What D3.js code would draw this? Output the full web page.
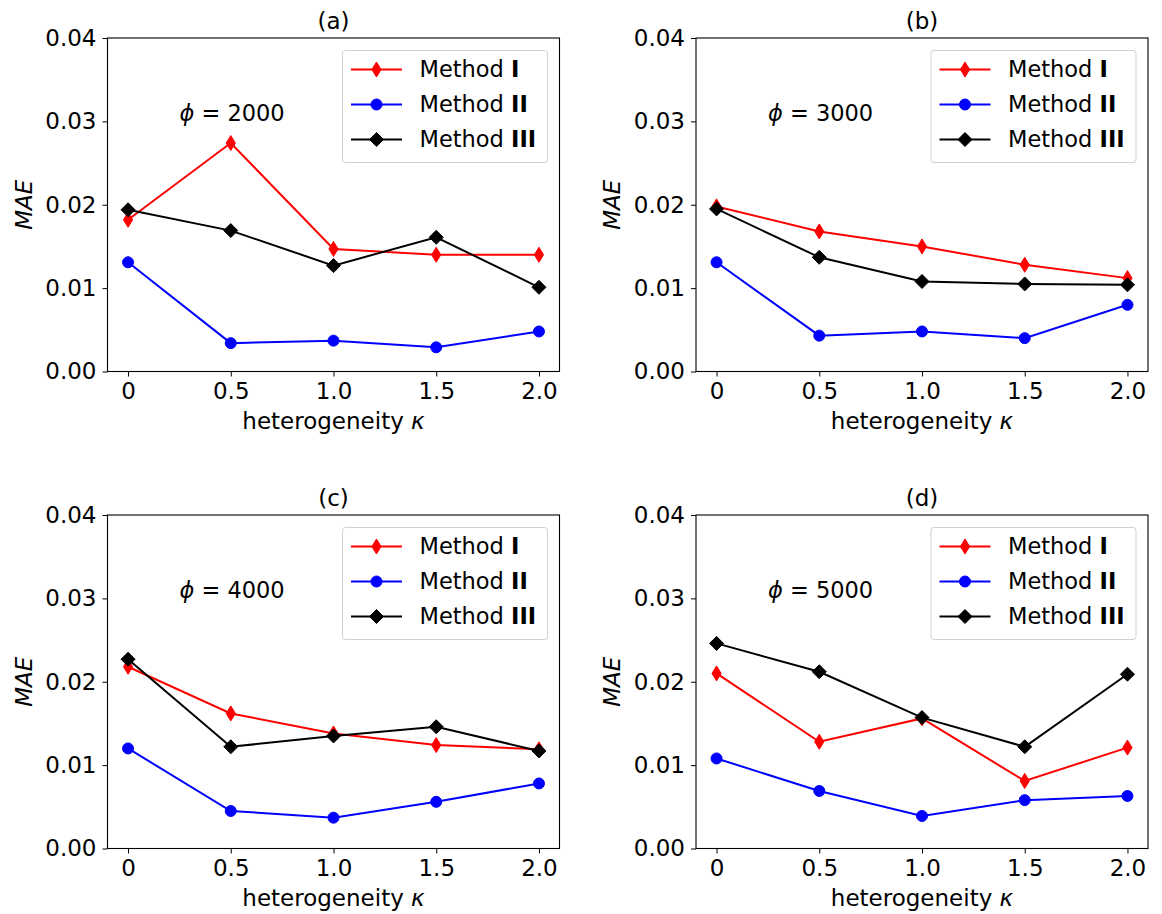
<!DOCTYPE html>
<html>
<head>
<meta charset="utf-8">
<script src="https://cdn.jsdelivr.net/npm/d3@7"></script>
<style>
  body { margin: 0; background: #fff; }
  svg { font-family: "DejaVu Sans", sans-serif; }
</style>
</head>
<body>
<div id="chart"></div>
<script>
// x values and tick labels
const kappa = [0, 0.5, 1.0, 1.5, 2.0];
const xTickLabels = ["0", "0.5", "1.0", "1.5", "2.0"];
const yTicks = [0, 0.01, 0.02, 0.03, 0.04];
const panelTitles = ["(a)", "(b)", "(c)", "(d)"];
const phiValues = ["2000", "3000", "4000", "5000"];
const methodNames = ["I", "II", "III"];

// MAE per panel (a,b,c,d)
const methodI = [
    [0.0182, 0.0274, 0.0147, 0.0140, 0.0140],
    [0.0198, 0.0168, 0.0150, 0.0128, 0.0112],
    [0.0218, 0.0162, 0.0138, 0.0124, 0.0119],
    [0.0210, 0.0128, 0.0156, 0.0081, 0.0121]
];
const methodII = [
    [0.0131, 0.0034, 0.0037, 0.0029, 0.0048],
    [0.0131, 0.0043, 0.0048, 0.0040, 0.0080],
    [0.0120, 0.0045, 0.0037, 0.0056, 0.0078],
    [0.0108, 0.0069, 0.0039, 0.0058, 0.0063]
];
const methodIII = [
    [0.0194, 0.0169, 0.0127, 0.0161, 0.0101],
    [0.0195, 0.0137, 0.0108, 0.0105, 0.0104],
    [0.0227, 0.0122, 0.0135, 0.0146, 0.0117],
    [0.0246, 0.0212, 0.0157, 0.0122, 0.0209]
];

const W = 1162, H = 914;
const plotW = 452, plotH = 333.5;
const lefts = [107.5, 696];
const tops = [38, 515];
const fs = 23;

const colors = ["#ff0000", "#0000ff", "#000000"];
const series = [methodI, methodII, methodIII];

const svg = d3.select("#chart").append("svg")
    .attr("width", W)
    .attr("height", H);

svg.append("rect").attr("width", W).attr("height", H).attr("fill", "#fff");

// marker shapes: thin diamond, circle, diamond
function drawMarker(g, type, x, y, color) {
    if (type === 0) {
        g.append("path")
            .attr("d", `M${x},${y - 7.5}L${x + 4.6},${y}L${x},${y + 7.5}L${x - 4.6},${y}Z`)
            .attr("fill", color).attr("stroke", color).attr("stroke-width", 1);
    } else if (type === 1) {
        g.append("circle").attr("cx", x).attr("cy", y).attr("r", 5.5)
            .attr("fill", color).attr("stroke", color).attr("stroke-width", 1);
    } else {
        g.append("path")
            .attr("d", `M${x},${y - 7}L${x + 7},${y}L${x},${y + 7}L${x - 7},${y}Z`)
            .attr("fill", color).attr("stroke", color).attr("stroke-width", 1);
    }
}

for (let p = 0; p < 4; p++) {
    const left = lefts[p % 2];
    const top = tops[Math.floor(p / 2)];

    const x = d3.scaleLinear().domain([-0.1, 2.1]).range([0, plotW]);
    const y = d3.scaleLinear().domain([0, 0.04]).range([plotH, 0]);

    const g = svg.append("g")
        .attr("transform", "translate(" + left + "," + top + ")");

    // axes
    const xAxis = d3.axisBottom(x)
        .tickValues(kappa)
        .tickFormat((d, i) => xTickLabels[i])
        .tickSize(5).tickPadding(6).tickSizeOuter(0);
    const yAxis = d3.axisLeft(y)
        .tickValues(yTicks)
        .tickFormat(d3.format(".2f"))
        .tickSize(5).tickPadding(6).tickSizeOuter(0);

    const gx = g.append("g")
        .attr("transform", "translate(0," + plotH + ")")
        .call(xAxis);
    gx.select(".domain").remove();
    gx.selectAll("text").attr("font-size", fs).attr("fill", "#000")
        .attr("font-family", "DejaVu Sans");
    gx.selectAll("line").attr("stroke", "#000");

    const gy = g.append("g").call(yAxis);
    gy.select(".domain").remove();
    gy.selectAll("text").attr("font-size", fs).attr("fill", "#000")
        .attr("font-family", "DejaVu Sans");
    gy.selectAll("line").attr("stroke", "#000");

    // lines + markers
    series.forEach((s, k) => {
        const vals = s[p];
        const line = d3.line()
            .x((d, i) => x(kappa[i]))
            .y(d => y(d));
        g.append("path")
            .datum(vals)
            .attr("d", line)
            .attr("fill", "none")
            .attr("stroke", colors[k])
            .attr("stroke-width", 2);
        const mg = g.append("g");
        vals.forEach((v, i) => drawMarker(mg, k, x(kappa[i]), y(v), colors[k]));
    });

    // frame
    g.append("rect")
        .attr("width", plotW).attr("height", plotH)
        .attr("fill", "none").attr("stroke", "#000").attr("stroke-width", 1.1);

    // phi annotation
    const phi = g.append("text")
        .attr("x", x(0.25)).attr("y", y(0.03))
        .attr("font-size", 22.5).attr("fill", "#000");
    phi.append("tspan").attr("font-style", "italic").text("\u03D5");
    phi.append("tspan").text(" = " + phiValues[p]);

    // legend
    const lgW = 205, lgH = 112;
    const lg = g.append("g")
        .attr("transform", "translate(" + (plotW - 12 - lgW) + "," + 12.5 + ")");
    lg.append("rect")
        .attr("width", lgW).attr("height", lgH).attr("rx", 3)
        .attr("fill", "#fff").attr("fill-opacity", 0.8)
        .attr("stroke", "#d0d0d0").attr("stroke-width", 1);
    methodNames.forEach((m, k) => {
        const ry = 19 + k * 35;
        lg.append("line")
            .attr("x1", 8.5).attr("x2", 59.5).attr("y1", ry).attr("y2", ry)
            .attr("stroke", colors[k]).attr("stroke-width", 2);
        drawMarker(lg, k, 34, ry, colors[k]);
        const t = lg.append("text")
            .attr("x", 77).attr("y", ry)
            .attr("dy", "0.35em")
            .attr("font-size", 22.5).attr("fill", "#000");
        t.append("tspan").text("Method ");
        t.append("tspan").attr("font-weight", "bold").text(m);
    });

    // title
    g.append("text")
        .attr("x", plotW / 2).attr("y", -9.5)
        .attr("text-anchor", "middle")
        .attr("font-size", fs).attr("fill", "#000")
        .text(panelTitles[p]);

    // x label
    const xl = g.append("text")
        .attr("x", plotW / 2).attr("y", plotH + 57)
        .attr("text-anchor", "middle")
        .attr("font-size", fs).attr("fill", "#000");
    xl.append("tspan").text("heterogeneity ");
    xl.append("tspan").attr("font-style", "italic").text("\u03BA");

    // y label
    g.append("text")
        .attr("transform", "translate(" + (-76) + "," + (plotH / 2) + ") rotate(-90)")
        .attr("text-anchor", "middle")
        .attr("font-size", fs).attr("font-style", "italic").attr("fill", "#000")
        .text("MAE");
}
</script>
</body>
</html>
